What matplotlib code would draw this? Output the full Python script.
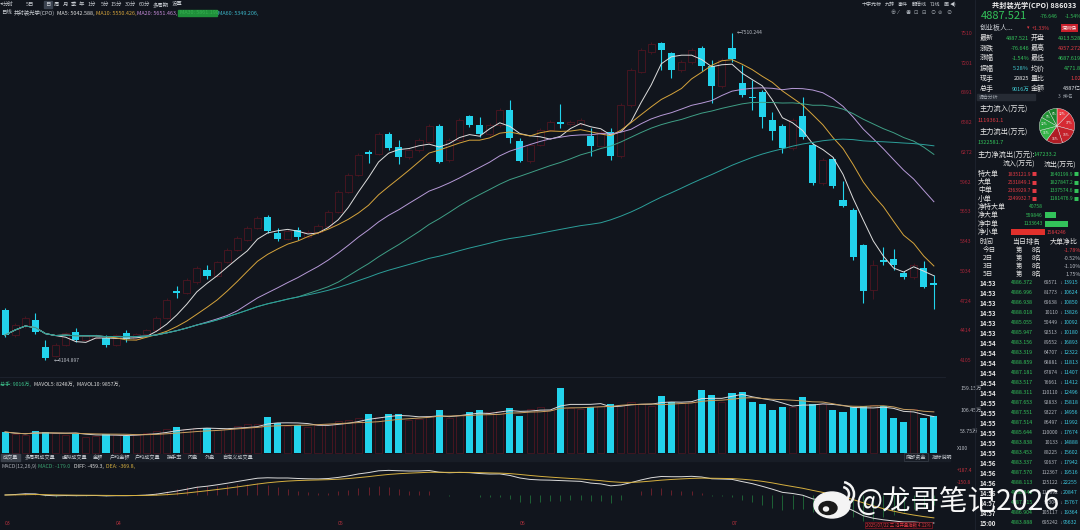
import numpy as np
import pandas as pd
import matplotlib
matplotlib.use('Agg')
import matplotlib.pyplot as plt
from matplotlib.patches import Rectangle, Ellipse, Arc

plt.rcParams['font.family'] = ['Noto Sans CJK SC', 'DejaVu Sans']
plt.rcParams['axes.unicode_minus'] = False

W, H = 1080, 530
BG = '#11151d'
CYAN = '#22d3ec'
RED = '#e23a44'
DRED = '#4e1621'
GREEN = '#33c25a'
GRAY = '#b8bcc4'

# daily candles (open, high, low, close)
opens = [4625, 4365, 4459, 4521, 4240, 4147, 4261, 4396, 4313, 4334,
         4334, 4261, 4386, 4323, 4375, 4417, 4542, 4823, 4802, 4917,
         5042, 4979, 5125, 5250, 5354, 5479, 5594, 5427, 5365, 5458,
         5385, 5437, 5500, 5646, 5854, 6031, 6270, 6250, 6458, 6322,
         6218, 6291, 6374, 6541, 6187, 6395, 6645, 6551, 6458, 6551,
         6707, 6385, 6177, 6343, 6499, 6583, 6562, 6562, 6437, 6333,
         6479, 6229, 6760, 7103, 7311, 7405, 7301, 7124, 7207, 7353,
         7166, 6957, 7353, 6989, 6843, 6895, 6603, 6541, 6312, 6645,
         6343, 5948, 6197, 5771, 5666, 5302, 4833, 5146, 5156, 5011,
         4969, 5063, 4905]
highs = [4646, 4490, 4560, 4594, 4313, 4280, 4400, 4438, 4370, 4375,
         4365, 4380, 4417, 4390, 4430, 4560, 4750, 4875, 4960, 5080,
         5094, 5140, 5270, 5395, 5500, 5600, 5614, 5479, 5465, 5489,
         5455, 5520, 5665, 5875, 6050, 6260, 6291, 6480, 6479, 6395,
         6310, 6415, 6560, 6562, 6415, 6625, 6655, 6635, 6570, 6730,
         6812, 6416, 6360, 6520, 6600, 6770, 6600, 6620, 6520, 6500,
         6520, 6780, 7145, 7350, 7415, 7415, 7311, 7225, 7350, 7374,
         7228, 7250, 7510.244, 7176, 7020, 6916, 6687, 6562, 6625, 6843,
         6364, 6210, 6218, 5968, 5687, 5313, 5150, 5281, 5260, 5031,
         5115, 5135, 4990]
lows = [4344, 4344, 4440, 4375, 4104.897, 4135, 4250, 4292, 4300, 4320,
        4240, 4250, 4292, 4310, 4360, 4400, 4530, 4750, 4790, 4900,
        4948, 4965, 5110, 5235, 5340, 5465, 5427, 5344, 5350, 5354,
        5370, 5420, 5485, 5630, 5840, 6015, 6156, 6235, 6291, 6145,
        6200, 6275, 6360, 6156, 6170, 6380, 6531, 6426, 6440, 6535,
        6364, 6166, 6160, 6330, 6485, 6520, 6545, 6545, 6229, 6320,
        6187, 6210, 6740, 7090, 7290, 7124, 7041, 7100, 7190, 7114,
        6780, 6940, 7207, 6843, 6707, 6520, 6395, 6260, 6295, 6406,
        5927, 5930, 5896, 5698, 5146, 4698, 4740, 5094, 5042, 4948,
        4950, 4855, 4636]
closes = [4365, 4469, 4542, 4396, 4126, 4261, 4386, 4313, 4355, 4355,
          4261, 4365, 4323, 4375, 4417, 4542, 4729, 4802, 4938, 5063,
          4979, 5125, 5250, 5375, 5479, 5583, 5448, 5365, 5448, 5385,
          5437, 5500, 5646, 5854, 6031, 6239, 6250, 6458, 6312, 6218,
          6291, 6395, 6541, 6166, 6395, 6603, 6551, 6458, 6551, 6707,
          6416, 6177, 6343, 6499, 6583, 6562, 6583, 6603, 6333, 6479,
          6229, 6759, 7124, 7332, 7394, 7332, 7124, 7207, 7332, 7166,
          6957, 7228, 7238, 6864, 6832, 6635, 6489, 6312, 6603, 6426,
          5948, 6187, 5916, 5708, 5177, 4823, 5094, 5125, 5094, 4969,
          5094, 4865, 4887.521]
# volume, axis units (x100 万)
volumes = [51.5, 46, 44, 53.9, 51.5, 48, 45, 46.6, 40, 42,
           46.6, 44, 41.7, 45, 50, 55, 60, 63.7, 58, 62,
           61.3, 56, 60, 65, 70, 72, 88.2, 73.5, 66, 68.6,
           64, 68, 72, 78, 82, 85, 95.6, 88, 95.6, 95.6,
           80, 84, 90, 105.4, 86, 92, 100.5, 105.4, 100, 104,
           110.3, 90.7, 108, 112, 106, 159.3, 110, 108, 112.7, 115,
           120, 118, 124, 120, 116, 139.7, 125, 122, 126, 154.4,
           142.1, 125, 147, 149.5, 125, 120, 105.4, 112.7, 112, 137.2,
           120, 120, 105.4, 100.5, 112.7, 115.2, 118, 115.2, 85.8, 76,
           108, 85.8, 90.16]

ma_windows = [5, 10, 20, 30, 60]
ma_colors = ['#dedede', '#d6a43c', '#b79ad8', '#3f9f86', '#2c9f9a']
month_pos = [0, 11, 33, 51, 72]
month_labels = ['03', '04', '05', '06', '07']
price_ticks_n = 12
vol_ticks = [159.15, 106.45, 53.75]
vol_tick_labels = ['159.15万', '106.45万', '53.75万']

o = np.array(opens, float); h = np.array(highs, float)
l = np.array(lows, float); c = np.array(closes, float)
v = np.array(volumes, float)
n = len(c)
idx = np.arange(n)
up = c >= o
dn = ~up
b_lo = np.minimum(o, c)
b_hi = np.maximum(o, c)
b_h = np.maximum(b_hi - b_lo, 14)

fig = plt.figure(figsize=(W / 100, H / 100), dpi=100, facecolor=BG)


def box(x0, y0, x1, y1):
    a = fig.add_axes([x0 / W, 1 - y1 / H, (x1 - x0) / W, (y1 - y0) / H])
    a.set_facecolor(BG)
    for s in a.spines.values():
        s.set_visible(False)
    return a


# ---- price panel
ax = box(0, 15, 945, 372)
ax.set_xlim(-0.5, 93.1)
ax.set_ylim(3980, 7696)
ax.vlines(idx[up], l[up], b_lo[up], color=DRED, lw=0.6)
ax.vlines(idx[up], b_hi[up], h[up], color=DRED, lw=0.6)
ax.bar(idx[up], b_h[up], bottom=b_lo[up], width=0.7, facecolor='none',
       edgecolor=DRED, linewidth=0.6)
ax.vlines(idx[dn], l[dn], h[dn], color=CYAN, lw=0.8)
ax.bar(idx[dn], b_h[dn], bottom=b_lo[dn], width=0.7, color=CYAN, linewidth=0)
cs = pd.Series(c)
for w_, col in zip(ma_windows, ma_colors):
    ax.plot(idx, cs.rolling(w_, min_periods=1).mean(), color=col, lw=0.7)
lo_i = int(np.argmin(l)); hi_i = int(np.argmax(h))
ax.text(lo_i + 0.8, l[lo_i], '←%.3f' % l[lo_i], color=GRAY, fontsize=3.6, va='center')
ax.text(hi_i + 0.5, h[hi_i], '←%.3f' % h[hi_i], color=GRAY, fontsize=3.6, va='center')
pt = np.linspace(l.min(), h.max(), price_ticks_n)
ax.set_yticks(pt)
ax.set_yticklabels(['%.0f' % t for t in pt])
ax.yaxis.tick_right()
ax.tick_params(axis='y', length=0, pad=11, labelsize=3.8, labelcolor='#a52538')
ax.set_xticks([])

# ---- volume panel
av = box(0, 385, 945, 455)
av.set_xlim(-0.5, 93.1)
av.set_ylim(-4.9, 166.6)
av.bar(idx[up], v[up], width=0.7, facecolor='none', edgecolor=DRED, linewidth=0.6)
av.bar(idx[dn], v[dn], width=0.7, color=CYAN, linewidth=0)
vs = pd.Series(v)
av.plot(idx, vs.rolling(5, min_periods=1).mean(), color='#d8d8d8', lw=0.7)
av.plot(idx, vs.rolling(10, min_periods=1).mean(), color='#c9a060', lw=0.7)
av.set_yticks(vol_ticks)
av.set_yticklabels(vol_tick_labels)
av.yaxis.tick_right()
av.tick_params(axis='y', length=0, pad=11, labelsize=3.8, labelcolor=GRAY)
av.set_xticks([])

# ---- MACD panel
am = box(0, 466, 945, 528)
am.set_xlim(-0.5, 93.1)
ema12 = cs.ewm(span=12, adjust=False).mean()
ema26 = cs.ewm(span=26, adjust=False).mean()
diff = ema12 - ema26
dea = diff.ewm(span=9, adjust=False).mean()
hist = 2 * (diff - dea)
k = -diff.min() / (523 - 495)
am.set_ylim(-(528 - 495) * k, (495 - 466) * k)
am.vlines(idx, 0, hist, colors=np.where(hist > 0, '#8a2430', '#238040'), lw=0.5)
am.plot(idx, diff, color='#dcdcdc', lw=0.7)
am.plot(idx, dea, color='#d6b040', lw=0.7)
am.set_xticks([]); am.set_yticks([])
for p_, lab in zip(month_pos, month_labels):
    am.text(p_, 0.04, lab, transform=am.get_xaxis_transform(), color='#b0303c',
            fontsize=3.8, ha='left', va='bottom')

# ---- overlay in pixel coordinates for texts and decorations
ov = fig.add_axes([0, 0, 1, 1], zorder=10)
ov.set_xlim(0, W); ov.set_ylim(H, 0); ov.axis('off')
ov.patch.set_alpha(0)


def t(x, y, s, col=GRAY, size=4.2, **kw):
    ov.text(x, y, s, color=col, fontsize=size, va='center', **kw)


# toolbar rows
ov.add_patch(Rectangle((44, 0.5), 8, 7, color='#3b4350'))
tb = [(3, '分时'), (26, '5日'), (45, '日'), (54, '周'), (63, '月'), (71, '季'), (79, '年'),
      (88, '1分'), (101, '5分'), (111, '15分'), (125, '30分'), (139, '60分'),
      (153, '多周期'), (172, '设置')]
for x_, s in tb:
    t(x_, 4, s, '#c8ccd2', 3.9)
t(0, 4, '◂', '#c8ccd2', 3.9)
t(1, 13, '日线', '#c8ccd2', 3.9)
t(14, 13, '共封装光学(CPO)', '#c8ccd2', 3.9)
t(57, 13, 'MA5: 5042.588,', '#e0e0e0', 3.9)
t(96, 13, 'MA10: 5550.426,', '#d6a43c', 3.9)
t(137, 13, 'MA20: 5651.463,', '#c58ad8', 3.9)
ov.add_patch(Rectangle((178, 10), 39, 6, color='#1f8f3a'))
t(180, 13, 'MA30: 5861.190', '#36b050', 3.9)
t(218, 13, 'MA60: 5349.206,', '#3cb6c8', 3.9)
for x_, s in [(862, '十字光标'), (885, '九转'), (898, '事件'), (912, '翻倍线'), (930, '71线'),
              (944, '画'), (950, '◀)')]:
    t(x_, 4, s, '#c8ccd2', 3.6)
for j, s in enumerate('⊕⁄◉⊡⊟⊙⊚⊘'):
    t(890 + j * 8, 13, s, '#9aa0a8', 3.8)

# volume header, tabs, macd header
t(0, 384, '总手: 9016万,', '#3cc08a', 3.7)
t(34, 384, 'MAVOL5: 8248万,', '#dcdcdc', 3.7)
t(77, 384, 'MAVOL10: 9857万,', '#dcdcdc', 3.7)
ov.add_patch(Rectangle((0, 454), 950, 7, color='#181d26'))
ov.add_patch(Rectangle((1, 454), 19, 7, color='#3a404a'))
tabs = [(3, '成交量'), (25, '多周期成交量'), (62, '虚拟成交量'), (93, '金额'), (110, '户均金额'),
        (135, '户均成交量'), (167, '换手率'), (188, '内盘'), (205, '外盘'), (222, '自定义成交量')]
for x_, s in tabs:
    t(x_, 457.5, s, '#c8ccd2', 3.7)
ov.add_patch(Rectangle((904, 453), 24, 8, facecolor='none', edgecolor='#3a404a', lw=0.5))
t(906, 457.5, '底部资金', '#c8ccd2', 3.7)
t(932, 457.5, '指标说明', '#c8ccd2', 3.7)
t(1, 466, 'MACD(12,26,9)', '#a8acb4', 3.8)
t(38, 466, 'MACD: -179.0', '#3aa070', 3.8)
t(74, 466, 'DIFF: -459.3,', '#e0e0e0', 3.8)
t(106, 466, 'DEA: -369.8,', '#d6b040', 3.8)
t(957, 449, 'X100', GRAY, 3.6)
t(957, 471, '+187.4', '#c0303c', 3.6)
t(957, 483, '-150.8', '#c0303c', 3.6)
ov.plot([0, 945], [377, 377], color='#1f2430', lw=0.6)
ov.plot([975, 975], [0, 530], color='#1f2430', lw=0.6)

# ---- right panel
t(992, 5, '共封装光学(CPO) 886033', '#f0f0f0', 5.2, fontweight='bold')
t(981, 16, '4887.521', GREEN, 8)
t(1040, 16, '-76.646', GREEN, 3.8)
t(1065, 16, '-1.54%', GREEN, 3.8)
t(980, 28, '创业板人...', '#c8ccd2', 5)
t(1027, 28, '▾', RED, 3.5)
t(1032, 28, '+1.33%', RED, 3.8)
t(1062, 28, '深圳快', '#ffffff', 3.6,
  bbox=dict(boxstyle='square,pad=0.25', fc='#c8202c', ec='none'))
quote_rows = [('最新', '4887.521', '开盘', '4913.528'),
              ('涨跌', '-76.646', '最高', '4957.272'),
              ('涨幅', '-1.54%', '最低', '4687.619'),
              ('振幅', '5.28%', '均价', '4771.8'),
              ('现手', '20825', '量比', '1.02'),
              ('总手', '9016万', '金额', '4387亿')]
quote_cols = [(GREEN, GREEN), (GREEN, RED), (GREEN, GREEN), ('#40c8d0', GREEN),
              ('#f0f0f0', RED), ('#40c8d0', '#dfe3e8')]
for r, (row, cc) in enumerate(zip(quote_rows, quote_cols)):
    y_ = 38 + r * 10.2
    t(980, y_, row[0], '#e6e6e6', 5.0)
    t(1029, y_, row[1], cc[0], 4.0, ha='right')
    t(1031, y_, row[2], '#e6e6e6', 5.0)
    t(1081, y_, row[3], cc[1], 4.0, ha='right')
ov.add_patch(Rectangle((977, 94), 58, 6, color='#262b34'))
t(979, 97, '调仓分析', '#9aa0a8', 3.5)
t(1058, 97, '3  排名', '#9aa0a8', 3.5)
t(980, 109, '主力流入(万元)', '#e6e6e6', 5.2)
t(978, 120, '1119361.1', RED, 4)
t(980, 132, '主力流出(万元)', '#e6e6e6', 5.2)
t(978, 142, '1322581.7', GREEN, 4)
t(978, 155, '主力净流出(万元):', '#e6e6e6', 5.2)
t(1034, 155, '147233.2', GREEN, 4)
t(1003, 165, '流入(万元)', '#e6e6e6', 5)
t(1044, 165, '流出(万元)', '#e6e6e6', 5)

flow_names = ['特大单', '大单', '中单', '小单']
flow_in = ['1835121.9', '2531849.1', '2363929.7', '2249932.7']
flow_out = ['1640199.9', '1827847.2', '1337574.6', '1181476.9']
flow_in_v = [1835121.9, 2531849.1, 2363929.7, 2249932.7]
flow_out_v = [1640199.9, 1827847.2, 1337574.6, 1181476.9]
for r, nm in enumerate(flow_names):
    y_ = 174 + r * 8.2
    t(978, y_, nm, '#e6e6e6', 5)
    t(1031, y_, flow_in[r], RED, 3.6, ha='right')
    t(1032, y_, '■', RED, 3.6)
    t(1073, y_, flow_out[r], GREEN, 3.6, ha='right')
    t(1074, y_, '■', GREEN, 3.6)

# main-force pie
ap = fig.add_axes([1035 / W, 1 - 148 / H, 44 / W, 44 / H], zorder=11)
pie_vals = flow_in_v + flow_out_v
pie_cols = ['#e8383f', '#d62a33', '#c4222b', '#b01c25', '#35b548', '#2aa33e', '#239235', '#1c812d']
ap.pie(pie_vals, colors=pie_cols, startangle=90, counterclock=False,
       wedgeprops=dict(edgecolor='#f0f0f0', linewidth=0.3),
       autopct='%1.0f%%', pctdistance=0.72, textprops=dict(color='#f0f0f0', fontsize=2.4))
ap.set_aspect('equal')

# net flow bars
net_names = ['净特大单', '净大单', '净中单', '净小单']
net_values = [40758, 559846, 1133643, -1584246]
net_labels = ['40758', '559846', '1133643', '1584246']
kk = 1584246 / 33.5
an = fig.add_axes([1011 / W, 1 - 236 / H, 69 / W, 33 / H], zorder=11)
an.set_xlim(-(1044.5 - 1011) * kk, (1080 - 1044.5) * kk)
an.set_ylim(3.5, -0.5)
an.barh(range(4), net_values, height=0.7,
        color=[GREEN if q > 0 else '#e0302c' for q in net_values])
an.axis('off')
for r, nm in enumerate(net_names):
    y_ = 207 + r * 8.4
    t(978, y_, nm, '#e6e6e6', 5)
    if net_values[r] > 0:
        t(1043, y_, net_labels[r], GREEN, 3.6, ha='right')
    else:
        t(1047, y_, net_labels[r], RED, 3.6)

t(980, 242, '时间', '#e6e6e6', 5)
t(1012, 242, '当日排名', '#e6e6e6', 5)
t(1050, 242, '大单净比', '#e6e6e6', 5)
rank_days = ['今日', '2日', '3日', '5日']
rank_pct = ['-1.78%', '-0.52%', '-1.10%', '1.75%']
rank_cols = [RED, GRAY, GRAY, GRAY]
for r, d in enumerate(rank_days):
    y_ = 250 + r * 8
    t(983, y_, d, '#e6e6e6', 4.8)
    t(1016, y_, '第', '#e6e6e6', 4.6)
    t(1032, y_, '8名', '#e6e6e6', 4.6)
    t(1081, y_, rank_pct[r], rank_cols[r], 3.8, ha='right')

trade_times = ['14:53'] * 6 + ['14:54'] * 6 + ['14:55'] * 6 + ['14:56'] * 4 + ['14:57'] * 2 + ['15:00']
trade_prices = ['4886.372', '4886.996', '4886.938', '4888.018', '4885.055', '4885.947',
                '4883.156', '4883.319', '4888.859', '4887.181', '4883.517', '4888.311',
                '4887.653', '4887.551', '4887.514', '4885.644', '4883.838', '4883.453',
                '4883.337', '4887.570', '4888.113', '4888.846', '4887.215', '4886.904', '4883.888']
trade_vols = ['69571', '81773', '69638', '10110', '50449', '92513', '89552', '64707',
              '68881', '67874', '76661', '110110', '92833', '93227', '86497', '110000',
              '10133', '88225', '90637', '112367', '125122', '118892', '96304', '105117', '695242']
trade_nums = ['13915', '10624', '10850', '13826', '10092', '10180', '16893', '12322',
              '11813', '11407', '11412', '12496', '15818', '14956', '11992', '17674',
              '14888', '15602', '17942', '19516', '22255', '20847', '15767', '19364', '95632']
for r in range(len(trade_times)):
    y_ = 283 + r * 10
    t(979, y_, trade_times[r], '#e6e6e6', 4.4, fontweight='bold')
    t(1033, y_, trade_prices[r], GREEN, 3.8, ha='right')
    t(1058, y_, trade_vols[r], '#b0b4bc', 3.6, ha='right')
    t(1059, y_, '⇃', '#707680', 3.2)
    t(1063, y_, trade_nums[r], '#3cc8e0', 3.8)

# date box at bottom and watermark
t(866, 525, '2025/07/22 三 沿开盘指数 4.12%', RED, 3.2,
  bbox=dict(boxstyle='square,pad=0.2', fc='#1a0d12', ec='#8a1a26', lw=0.5))
ov.add_patch(Ellipse((832, 505), 36, 26, color='#f4f4f4'))
ov.add_patch(Ellipse((828, 508), 18, 13, color='#1a1a1a'))
ov.add_patch(Ellipse((826, 509), 5, 4, color='#f4f4f4'))
ov.add_patch(Arc((842, 494), 14, 14, theta1=280, theta2=80, color='#f4f4f4', lw=1.8))
ov.add_patch(Arc((842, 494), 24, 24, theta1=280, theta2=80, color='#f4f4f4', lw=1.8))
t(855, 503, '@龙哥笔记2026', '#f7f7f7', 20.5)

fig.savefig('out.png', dpi=100, facecolor=BG)
